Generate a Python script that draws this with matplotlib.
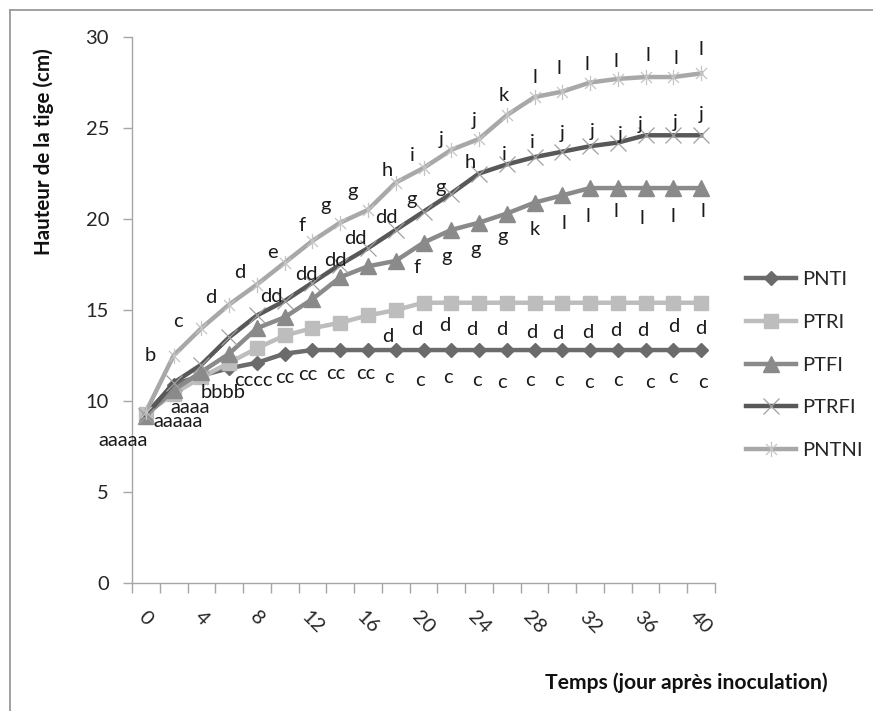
import matplotlib
matplotlib.use("Agg")
import matplotlib.pyplot as plt
from matplotlib.lines import Line2D
from matplotlib.path import Path
import numpy as np

plt.rcParams['font.family'] = ['Lato', 'DejaVu Sans']

# ---------------- data ----------------
days = list(range(0, 41, 2))
series_names = ['PNTI', 'PTRI', 'PTFI', 'PTRFI', 'PNTNI']

pnti = [9.3, 10.9, 11.4, 11.8, 12.1, 12.6, 12.8, 12.8, 12.8, 12.8, 12.8,
        12.8, 12.8, 12.8, 12.8, 12.8, 12.8, 12.8, 12.8, 12.8, 12.8]
ptri = [9.3, 10.4, 11.3, 12.1, 12.9, 13.6, 14.0, 14.3, 14.7, 15.0, 15.4,
        15.4, 15.4, 15.4, 15.4, 15.4, 15.4, 15.4, 15.4, 15.4, 15.4]
ptfi = [9.2, 10.6, 11.6, 12.6, 14.0, 14.6, 15.6, 16.8, 17.4, 17.7, 18.7,
        19.4, 19.8, 20.3, 20.9, 21.3, 21.7, 21.7, 21.7, 21.7, 21.7]
ptrfi = [9.2, 11.0, 12.0, 13.5, 14.7, 15.5, 16.5, 17.5, 18.4, 19.4, 20.4,
         21.4, 22.5, 23.0, 23.4, 23.7, 24.0, 24.2, 24.6, 24.6, 24.6]
pntni = [9.4, 12.5, 14.0, 15.3, 16.4, 17.6, 18.8, 19.8, 20.5, 22.0, 22.8,
         23.8, 24.4, 25.7, 26.7, 27.0, 27.5, 27.7, 27.8, 27.8, 28.0]

# significance letters (one per point, '' = none)
pnti_labels = ['aaaaa', '', '', '', '', 'cc', 'cc', 'cc', 'cc'] + ['c'] * 12
ptri_labels = ['', 'aaaaa', 'aaaa', 'bbbb', 'cccc', '', '', '', ''] + ['d'] * 12
ptfi_labels = [''] * 10 + ['f', 'g', 'g', 'g', 'k', 'l', 'l', 'l', 'l', 'l', 'l']
ptrfi_labels = [''] * 5 + ['dd', 'dd', 'dd', 'dd', 'dd', 'g', 'g', 'h', 'i', 'i',
                           'j', 'j', 'j', 'j', 'j', 'j']
pntni_labels = ['', 'b', 'c', 'd', 'd', 'e', 'f', 'g', 'g', 'h', 'i', 'j', 'j', 'k',
                'l', 'l', 'l', 'l', 'l', 'l', 'l']

# label offsets in pixels (dx right, dy down) relative to each point
pnti_off = [(-23, 27), (0, 0), (0, 0), (0, 0), (0, 0), (0, 24), (-5, 24), (-4, 23),
            (-2, 23), (-7, 27), (-4, 30), (-3, 27), (-2, 30), (-5, 32), (-5, 30),
            (-3, 30), (-1, 32), (0, 30), (4, 32), (0, 27), (2, 32)]
ptri_off = [(0, 0), (4, 28), (-11, 30), (-6, 30), (-4, 32), (0, 0), (0, 0), (0, 0),
            (0, 0), (-8, 26), (-7, 27), (-7, 23), (-7, 27), (-5, 27), (-3, 30),
            (-5, 31), (-2, 30), (-2, 28), (-3, 28), (0, 24), (0, 26)]
ptfi_off = [(0, 0)] * 10 + [(-6, 25), (-5, 27), (-3, 27), (-4, 23), (0, 27), (2, 28),
                            (-2, 28), (-2, 23), (-4, 30), (0, 28), (2, 23)]
ptrfi_off = [(0, 0)] * 5 + [(-13, -4), (-6, -8), (-5, -4), (-13, -10), (-9, -12),
                            (-12, -12), (-11, -6), (-9, -11), (-2, -10), (-2, -15),
                            (0, -18), (2, -15), (2, -8), (-5, -11), (2, -13), (0, -21)]
pntni_off = [(0, 0), (-23, 0), (-23, -7), (-18, -7), (-17, -12), (-12, -10), (-10, -15),
             (-15, -17), (-15, -18), (-8, -12), (-11, -13), (-10, -10), (-5, -18),
             (-3, -20), (0, -20), (-3, -23), (-3, -18), (-2, -17), (2, -22), (3, -19),
             (0, -24)]

# ---------------- figure ----------------
W, H = 873, 711
fig = plt.figure(figsize=(W / 100, H / 100), dpi=100)
ax = fig.add_axes([132 / W, (H - 583) / H, (715 - 132) / W, (583 - 37) / H])

x = np.arange(len(days))

star = Path([(0, -1), (0, 1), (-0.72, -0.72), (0.72, 0.72), (-0.72, 0.72), (0.72, -0.72)],
            [Path.MOVETO, Path.LINETO, Path.MOVETO, Path.LINETO, Path.MOVETO, Path.LINETO])

styles = [
    dict(color='#6b6b6b', marker='D', markersize=7.5, markerfacecolor='#6b6b6b',
         markeredgecolor='#6b6b6b'),
    dict(color='#bdbdbd', marker='s', markersize=10, markerfacecolor='#bdbdbd',
         markeredgecolor='#bdbdbd'),
    dict(color='#8a8a8a', marker='^', markersize=12, markerfacecolor='#8a8a8a',
         markeredgecolor='#8a8a8a'),
    dict(color='#585858', marker='x', markersize=11, markeredgecolor='#a0a0a0',
         markeredgewidth=0.9),
    dict(color='#a8a8a8', marker=star, markersize=11, markeredgecolor='#c4c4c4',
         markerfacecolor='none', markeredgewidth=0.9),
]
all_series = [pnti, ptri, ptfi, ptrfi, pntni]
all_labels = [pnti_labels, ptri_labels, ptfi_labels, ptrfi_labels, pntni_labels]
all_offs = [pnti_off, ptri_off, ptfi_off, ptrfi_off, pntni_off]

handles = []
for name, vals, st in zip(series_names, all_series, styles):
    h, = ax.plot(x, vals, lw=3.2, label=name, solid_joinstyle='round', zorder=3, **st)
    handles.append(h)

for vals, labs, offs in zip(all_series, all_labels, all_offs):
    for xi, v, lab, (dx, dy) in zip(x, vals, labs, offs):
        if lab:
            ax.annotate(lab, (xi, v), xytext=(dx, -dy), textcoords='offset pixels',
                        ha='center', va='center', fontsize=14.5, color='#1a1a1a',
                        zorder=5, annotation_clip=False)

ax.set_xlim(-0.5, len(days) - 0.5)
ax.set_ylim(0, 30)

for s in ['top', 'right']:
    ax.spines[s].set_visible(False)
for s in ['left', 'bottom']:
    ax.spines[s].set_color('#a6a6a6')
    ax.spines[s].set_linewidth(1.0)

ax.set_yticks(np.arange(0, 31, 5))
ax.tick_params(axis='y', length=6.5, width=1, color='#a6a6a6', pad=10,
               labelsize=14.5, labelcolor='#262626')

ax.set_xticks(np.arange(-0.5, len(days), 1))
ax.set_xticklabels([])
ax.tick_params(axis='x', which='major', length=7, width=1, color='#a6a6a6')
ax.set_xticks(x[::2], minor=True)
ax.set_xticklabels([str(d) for d in days[::2]], minor=True, rotation=-45,
                   ha='center', va='top', fontsize=14.5, color='#262626')
ax.tick_params(axis='x', which='minor', length=0, pad=18)

fig.text(44 / W, 1 - 152 / H, 'Hauteur de la tige (cm)', rotation=90, ha='center',
         va='center', fontsize=14.8, fontweight='bold', color='#111111')
fig.text(686 / W, 1 - 683 / H, 'Temps (jour après inoculation)', ha='center',
         va='center', fontsize=15.2, fontweight='bold', color='#111111')

leg = fig.legend(handles=handles, loc='center left',
                 bbox_to_anchor=(746 / W, 1 - 365 / H), frameon=False,
                 fontsize=14.5, handlelength=2.5, handletextpad=0.3,
                 labelspacing=1.28, borderpad=0, borderaxespad=0)
for t in leg.get_texts():
    t.set_color('#262626')

# chart border (left and top visible in crop)
fig.add_artist(Line2D([10 / W, 10 / W], [0, 1 - 10 / H], transform=fig.transFigure,
                      color='#9a9a9a', lw=1.3))
fig.add_artist(Line2D([10 / W, 1], [1 - 10 / H, 1 - 10 / H], transform=fig.transFigure,
                      color='#9a9a9a', lw=1.3))

fig.savefig('out.png', dpi=100)
